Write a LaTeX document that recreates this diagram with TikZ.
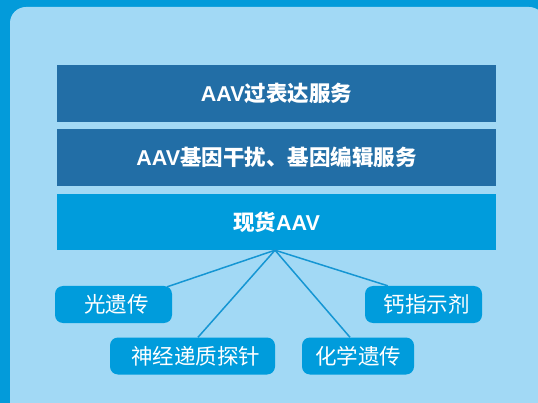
\documentclass[tikz,border=0pt]{standalone}
\usepackage{fontspec}
\setmainfont{Liberation Sans}
\newfontfamily\cjk{Noto Sans CJK SC}
\definecolor{outerblue}{HTML}{039BDA}
\definecolor{panelblue}{HTML}{A2D9F5}
\definecolor{darkbar}{HTML}{226EA6}
\definecolor{brightbar}{HTML}{009CDC}
\definecolor{linkblue}{HTML}{1596D3}
\begin{document}
\begin{tikzpicture}[x=1pt,y=-1pt,
  bar/.style={minimum width=439pt,minimum height=57pt,inner sep=0pt,text=white,
    font=\fontsize{21.5}{25}\selectfont\bfseries},
  pill/.style={fill=brightbar,rounded corners=8pt,minimum height=37pt,inner sep=0pt,
    text=white,font=\fontsize{21.5}{25}\selectfont\cjk},
  link/.style={draw=linkblue,line width=1.5pt}]
\useasboundingbox (0,0) rectangle (538,403);
\fill[outerblue] (0,0) rectangle (538,403);
\begin{scope}
\clip (0,0) rectangle (538,403);
\fill[panelblue,rounded corners=16pt] (10,7) rectangle (545,425);
\end{scope}
\node[bar,fill=darkbar] (b1) at (276.5,93.5) {AAV{\cjk 过表达服务}};
\node[bar,fill=darkbar] (b2) at (276.5,157.5) {AAV{\cjk 基因干扰、基因编辑服务}};
\node[bar,fill=brightbar,minimum height=56pt] (b3) at (276.5,222) {{\cjk 现货}AAV};
\node[pill,minimum width=117pt] (p1) at (113.5,304.5) {\hspace*{6pt}光遗传};
\node[pill,minimum width=165pt] (p2) at (192.5,356) {\hspace*{6pt}神经递质探针};
\node[pill,minimum width=112pt] (p3) at (358,356) {化学遗传};
\node[pill,minimum width=117pt] (p4) at (423.5,304.5) {\hspace*{6pt}钙指示剂};
\coordinate (hub) at ([xshift=-1.5pt]b3.south);
\draw[link] (hub) -- ([xshift=-5pt,yshift=-1pt]p1.north east);
\draw[link] (hub) -- ([xshift=5.5pt]p2.north);
\draw[link] (hub) -- ([xshift=-8pt]p3.north);
\draw[link] (hub) -- ([xshift=23pt]p4.north west);
\end{tikzpicture}
\end{document}
